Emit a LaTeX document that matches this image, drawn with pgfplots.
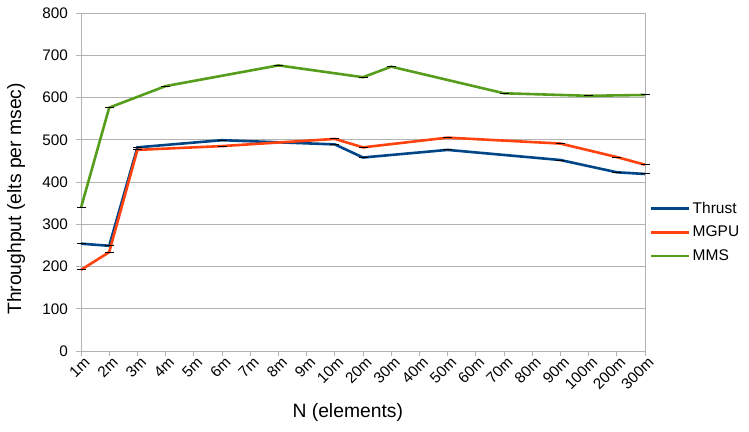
\documentclass[border=0pt]{standalone}
\usepackage{pgfplots}
\pgfplotsset{compat=1.18}
\usepackage{fontspec}
\setmainfont{Liberation Sans}
\definecolor{cthrust}{HTML}{004586}
\definecolor{cmgpu}{HTML}{FF420E}
\definecolor{cmms}{HTML}{579D1C}
\definecolor{gridc}{HTML}{B3B3B3}
\begin{document}
\begin{tikzpicture}
\begin{axis}[
  at={(81pt,80pt)}, anchor=south west,
  width=564pt, height=338pt, scale only axis,
  xmin=0, xmax=20, ymin=0, ymax=800,
  xtick={0,...,20},
  xticklabels={1m,2m,3m,4m,5m,6m,7m,8m,9m,10m,20m,30m,40m,50m,60m,70m,80m,90m,100m,200m,300m},
  ytick={0,100,...,800},
  ymajorgrids, grid style={gridc, line width=0.8pt},
  axis line style={gridc, line width=0.8pt},
  tick style={gridc, line width=0.8pt},
  tick align=outside, major tick length=5pt,
  xtick pos=bottom, ytick pos=left,
  /pgf/number format/assume math mode=true,
  ticklabel style={font=\fontsize{15.3}{18}\selectfont, text=black},
  yticklabel style={inner sep=0pt, xshift=-8pt},
  xticklabel style={rotate=45, anchor=north east, inner sep=0pt, xshift=2pt, yshift=-1pt},
  xlabel={N (elements)},
  ylabel={Throughput (elts per msec)},
  label style={font=\fontsize{19.3}{23}\selectfont},
  xlabel style={at={(axis description cs:0.473,-0.183)}, anchor=center},
  ylabel style={at={(axis description cs:-0.115,0.45)}, anchor=center},
  clip=false,
  legend style={at={(1.003,0.352)}, anchor=west, draw=none, fill=none,
    font=\fontsize{15.5}{18}\selectfont, row sep=7.5pt,
    /tikz/every even column/.append style={column sep=2pt}},
  legend cell align=left,
  legend image code/.code={\draw[#1, mark=none, line width=2.8pt] (0pt,0pt) -- (38pt,0pt);},
  every axis plot/.append style={line width=2.6pt, mark=-, mark size=4.5pt,
    mark options={black, line width=1pt}},
]
\addplot[cthrust] coordinates {(0,254) (1,249) (2,482) (5,499) (9,489) (10,458) (13,476) (17,452) (19,423) (20,419)};
\addlegendentry{Thrust}
\addplot[cmgpu] coordinates {(0,192) (1,234) (2,476) (5,485) (9,502) (10,482) (13,505) (17,491) (19,459) (20,441)};
\addlegendentry{MGPU}
\addplot[cmms] coordinates {(0,339) (1,576) (3,627) (7,676) (10,648) (11,673) (15,610) (18,604) (20,606)};
\addlegendentry{MMS}
\end{axis}
\pgfresetboundingbox
\path (0pt,0pt) rectangle (749pt,431pt);
\end{tikzpicture}
\end{document}
